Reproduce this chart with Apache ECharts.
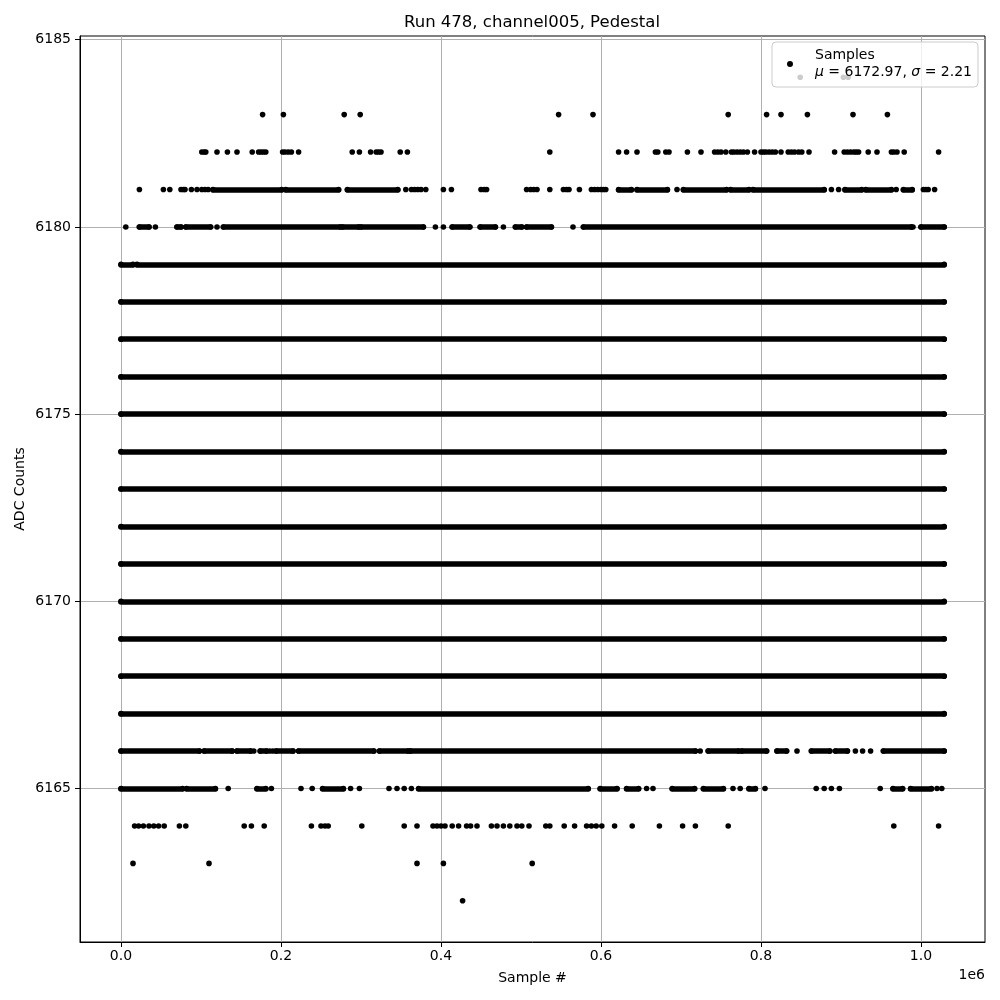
<!DOCTYPE html>
<html><head><meta charset="utf-8">
<script src="https://cdn.jsdelivr.net/npm/echarts@6/dist/echarts.min.js"></script>
<style>html,body{margin:0;padding:0;background:#fff}#c{width:1000px;height:1000px}</style>
</head><body><div id="c"></div>
<script>
const chartTitle = 'Run 478, channel005, Pedestal';
const xAxisName = 'Sample #';
const yAxisName = 'ADC Counts';
const xTickValues = [0, 200000, 400000, 600000, 800000, 1000000];
const yTickValues = [6165, 6170, 6175, 6180, 6185];
const meanValue = 6172.97;
const sigmaValue = 2.21;
const kSamples = 1000; // sample positions below are in thousands

// rows where every sample range is filled
const fullLevels = [6167, 6168, 6169, 6170, 6171, 6172, 6173, 6174, 6175, 6176, 6177, 6178];
const fullRange = [0, 1029];

// dense runs per ADC level [start, end] (k samples)
const runs6179 = [[0, 15], [20, 1029]];
const runs6180 = [[23, 35], [70, 75], [81, 112], [128, 274], [277, 297], [300, 378], [414, 436], [449, 468], [493, 501], [507, 538], [578, 988], [1000, 1029]];
const runs6181 = [[115, 201], [206, 272], [283, 346], [622, 638], [645, 683], [703, 757], [762, 785], [790, 879], [905, 926], [931, 963], [978, 989]];
const runs6166 = [[0, 98], [104, 139], [145, 162], [174, 182], [194, 215], [222, 316], [323, 359], [362, 718], [734, 772], [776, 807], [820, 832], [863, 886], [893, 908], [953, 1029]];
const runs6165 = [[0, 77], [82, 118], [170, 181], [252, 278], [372, 584], [599, 620], [632, 647], [689, 717], [728, 753], [785, 793], [965, 977], [987, 1013]];

// isolated samples per ADC level (k samples)
const pts6184 = [849, 903, 909];
const pts6183 = [177, 203, 279, 299, 547, 590, 759, 807, 825, 858, 915, 958];
const pts6182 = [101, 104, 106, 120, 133, 145, 164, 172, 175, 178, 181, 202, 205, 209, 213, 222, 289, 298, 312, 319, 322, 325, 349, 358, 536, 622, 632, 645, 668, 671, 681, 685, 708, 725, 742, 746, 750, 756, 763, 766, 770, 774, 778, 783, 792, 800, 803, 806, 810, 814, 818, 825, 834, 838, 842, 847, 851, 860, 892, 904, 908, 912, 916, 919, 922, 934, 945, 963, 966, 970, 979, 1022];
const pts6181 = [23, 53, 61, 75, 78, 80, 88, 95, 101, 105, 109, 356, 363, 367, 371, 375, 381, 403, 413, 450, 454, 457, 507, 512, 516, 520, 536, 553, 557, 560, 573, 588, 592, 596, 600, 603, 606, 695, 888, 897, 969, 1003, 1006, 1009, 1017];
const pts6180 = [6, 43, 120, 393, 403, 478, 565, 990];
const pts6166 = [166, 186, 190, 724, 845, 918, 927, 937];
const pts6165 = [134, 188, 225, 239, 287, 298, 335, 345, 354, 363, 657, 665, 765, 774, 805, 869, 879, 888, 898, 949, 1020, 1026];
const pts6164 = [17, 22, 28, 35, 41, 47, 54, 73, 81, 154, 163, 179, 238, 250, 255, 259, 301, 354, 370, 390, 395, 400, 405, 414, 422, 432, 437, 445, 463, 470, 478, 486, 495, 501, 510, 531, 536, 554, 567, 582, 588, 594, 601, 617, 639, 673, 702, 718, 759, 966, 1022];
const pts6163 = [15, 110, 370, 403, 514];
const pts6162 = [427];

const runRows = [[6179, runs6179], [6180, runs6180], [6181, runs6181], [6166, runs6166], [6165, runs6165]];
fullLevels.forEach(l => runRows.push([l, [fullRange]]));
const ptRows = [[6184, pts6184], [6183, pts6183], [6182, pts6182], [6181, pts6181], [6180, pts6180], [6166, pts6166], [6165, pts6165], [6164, pts6164], [6163, pts6163], [6162, pts6162]];

const scatterData = [];
ptRows.forEach(([lvl, xs]) => xs.forEach(x => scatterData.push([x * kSamples, lvl])));
const linesData = [];
runRows.forEach(([lvl, rs]) => rs.forEach(r => {
  linesData.push({ coords: [[r[0] * kSamples, lvl], [r[1] * kSamples, lvl]] });
  scatterData.push([r[0] * kSamples, lvl], [r[1] * kSamples, lvl]);
}));

const FONT = 'DejaVu Sans';
const DOT = 5.6;
const chart = echarts.init(document.getElementById('c'), null, { renderer: 'canvas' });
chart.setOption({
  animation: false,
  backgroundColor: '#fff',
  textStyle: { fontFamily: FONT },
  title: {
    text: chartTitle, left: 527, top: 9, textAlign: 'center',
    textStyle: { fontFamily: FONT, fontSize: 16.5, fontWeight: 'normal', color: '#000' }
  },
  grid: { left: 80, right: 15, top: 36, bottom: 58, show: true, borderColor: '#000', borderWidth: 1, backgroundColor: 'transparent' },
  legend: {
    right: 22, top: 42, orient: 'vertical',
    data: [{ name: 'Samples', icon: 'circle' }],
    itemWidth: 6, itemHeight: 6,
    padding: [5, 6, 6, 15],
    backgroundColor: 'rgba(255,255,255,0.8)', borderColor: '#cccccc', borderWidth: 1, borderRadius: 4,
    formatter: () => 'Samples\n{i|μ} = ' + meanValue.toFixed(2) + ', {i|σ} = ' + sigmaValue.toFixed(2),
    textStyle: {
      fontFamily: FONT, fontSize: 14, color: '#000', lineHeight: 17, padding: [0, 0, 0, 17],
      rich: { i: { fontFamily: FONT, fontSize: 14, fontStyle: 'italic', color: '#000', lineHeight: 17 } }
    }
  },
  xAxis: {
    type: 'value', min: -51250, max: 1080000,
    name: xAxisName, nameLocation: 'middle', nameGap: 29,
    nameTextStyle: { fontFamily: FONT, fontSize: 14, color: '#000' },
    axisLine: { show: true, onZero: false, lineStyle: { color: '#000', width: 1 } },
    axisTick: { show: true, customValues: xTickValues, length: 5, lineStyle: { color: '#000' } },
    axisLabel: { customValues: xTickValues, margin: 7, fontFamily: FONT, fontSize: 14, color: '#000',
      formatter: v => (v / 1e6).toFixed(1) },
    splitLine: { show: true, lineStyle: { color: '#b0b0b0', width: 1 } }
  },
  yAxis: {
    type: 'value', min: 6160.9, max: 6185.1,
    name: yAxisName, nameLocation: 'middle', nameGap: 53, nameRotate: 90, nameMoveOverlap: false,
    nameTextStyle: { fontFamily: FONT, fontSize: 14, color: '#000' },
    axisLine: { show: true, onZero: false, lineStyle: { color: '#000', width: 1 } },
    axisTick: { show: true, customValues: yTickValues, length: 5, lineStyle: { color: '#000' } },
    axisLabel: { customValues: yTickValues, margin: 9, fontFamily: FONT, fontSize: 14, color: '#000',
      formatter: v => String(Math.round(v)) },
    splitLine: { show: true, lineStyle: { color: '#b0b0b0', width: 1 } }
  },
  graphic: [{ type: 'text', right: 15, top: 968, style: { text: '1e6', fontFamily: FONT, fontSize: 14, fill: '#000' } }],
  series: [
    {
      name: 'runs', type: 'lines', coordinateSystem: 'cartesian2d', polyline: false,
      data: linesData, silent: true, z: 2,
      lineStyle: { color: '#000', width: DOT, opacity: 1, cap: 'round', curveness: 0 }
    },
    {
      name: 'Samples', type: 'scatter', data: scatterData, symbol: 'circle', symbolSize: DOT,
      itemStyle: { color: '#000', opacity: 1 }, silent: true, z: 3, large: false
    }
  ]
});
</script></body></html>
